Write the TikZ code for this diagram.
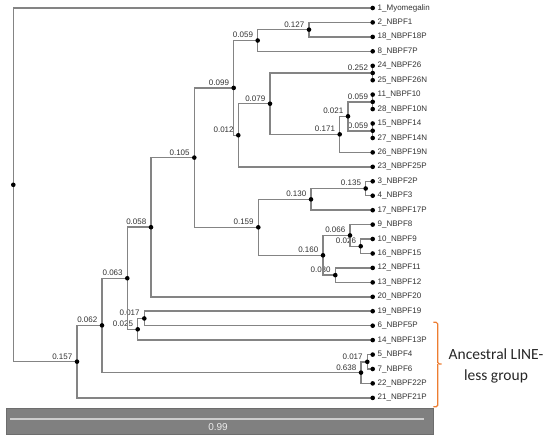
\documentclass[tikz,border=0pt]{standalone}
\usepackage{fontspec}
\setmainfont{Liberation Sans}
\newfontfamily\calfont{Carlito}
\definecolor{branchgray}{RGB}{132,132,132}
\definecolor{textgray}{RGB}{50,50,50}
\definecolor{bracketorange}{RGB}{237,125,49}
\definecolor{bargray}{RGB}{128,128,128}
\definecolor{barline}{RGB}{205,205,205}
\definecolor{bartext}{RGB}{235,235,235}
\newcommand\treenode[4]{%
  \coordinate (#1) at (#2,#3);
  \node[supp] (#1lab) at ([xshift=-4.5pt,yshift=5.3pt]#1) {#4};}
\newcommand\leafnode[3]{%
  \coordinate (#1) at (372.7,#2);
  \node[leaflab] (#1lab) at (377.5,#2) {#3};}
\begin{document}
\begin{tikzpicture}[x=1pt,y=-1pt,
  branch/.style={draw=branchgray, line width=1.5pt},
  dot/.style={circle, fill=black, inner sep=0pt, minimum size=4.6pt},
  leaflab/.style={anchor=west, inner sep=0pt, font=\fontsize{8}{9}\selectfont, text=textgray},
  supp/.style={anchor=east, inner sep=0pt, font=\fontsize{8}{9}\selectfont, text=textgray},
  brace/.style={draw=bracketorange, line width=1.2pt, rounded corners=1.5pt}]
\useasboundingbox (0,0) rectangle (550,440);
% leaves
\leafnode{l1}{8.0}{1\_Myomegalin}
\leafnode{l2}{22.4}{2\_NBPF1}
\leafnode{l18}{36.9}{18\_NBPF18P}
\leafnode{l8}{51.3}{8\_NBPF7P}
\leafnode{l24}{65.8}{24\_NBPF26}
\leafnode{l25}{80.2}{25\_NBPF26N}
\leafnode{l11}{94.6}{11\_NBPF10}
\leafnode{l28}{109.1}{28\_NBPF10N}
\leafnode{l15}{123.5}{15\_NBPF14}
\leafnode{l27}{138.0}{27\_NBPF14N}
\leafnode{l26}{152.4}{26\_NBPF19N}
\leafnode{l23}{166.8}{23\_NBPF25P}
\leafnode{l3}{181.3}{3\_NBPF2P}
\leafnode{l4}{195.7}{4\_NBPF3}
\leafnode{l17}{210.2}{17\_NBPF17P}
\leafnode{l9}{224.6}{9\_NBPF8}
\leafnode{l10}{239.0}{10\_NBPF9}
\leafnode{l16}{253.5}{16\_NBPF15}
\leafnode{l12}{267.9}{12\_NBPF11}
\leafnode{l13}{282.4}{13\_NBPF12}
\leafnode{l20}{296.8}{20\_NBPF20}
\leafnode{l19}{311.2}{19\_NBPF19}
\leafnode{l6}{325.7}{6\_NBPF5P}
\leafnode{l14}{340.1}{14\_NBPF13P}
\leafnode{l5}{354.6}{5\_NBPF4}
\leafnode{l7}{369.0}{7\_NBPF6}
\leafnode{l22}{383.4}{22\_NBPF22P}
\leafnode{l21}{397.9}{21\_NBPF21P}
% internal nodes
\coordinate (root) at (13.3,184.8);
\treenode{n127}{309}{29.65}{0.127}
\treenode{n059a}{257.7}{40.5}{0.059}
\treenode{n252}{372.7}{73}{0.252}
\treenode{n059b}{372.7}{101.85}{0.059}
\treenode{n059c}{372.7}{130.75}{0.059}
\treenode{n021}{348}{116.3}{0.021}
\treenode{n171}{339.7}{134.35}{0.171}
\treenode{n079}{270}{103.7}{0.079}
\treenode{n012}{238.3}{135.25}{0.012}
\treenode{n099}{233.7}{87.9}{0.099}
\treenode{n135}{365.7}{188.5}{0.135}
\treenode{n130}{311}{199.35}{0.130}
\treenode{n026}{360.7}{246.25}{0.026}
\treenode{n066}{350}{235.4}{0.066}
\treenode{n030}{335.3}{275.15}{0.030}
\treenode{n160}{323}{255.3}{0.160}
\treenode{n159}{258.3}{227.3}{0.159}
\treenode{n105}{194.3}{157.6}{0.105}
\treenode{n058}{151}{227.2}{0.058}
\treenode{n017a}{144.3}{318.45}{0.017}
\treenode{n025}{137.7}{329.3}{0.025}
\treenode{n063}{127.3}{278.25}{0.063}
\treenode{n017b}{367.3}{361.8}{0.017}
\treenode{n638}{361}{372.6}{0.638}
\treenode{n062}{102}{325.4}{0.062}
\treenode{n157}{77}{361.65}{0.157}
% branches
\foreach \p/\a/\b in {root/l1/n157, n157/n062/l21, n062/n063/n638, n063/n058/n025,
  n058/n105/l20, n105/n099/n159, n099/n059a/n012, n059a/n127/l8, n127/l2/l18,
  n012/n079/l23, n079/n252/n171, n252/l24/l25, n171/n021/l26, n021/n059b/n059c,
  n059b/l11/l28, n059c/l15/l27, n159/n130/n160, n130/n135/l17, n135/l3/l4,
  n160/n066/n030, n066/l9/n026, n026/l10/l16, n030/l12/l13, n025/n017a/l14,
  n017a/l19/l6, n638/n017b/l22, n017b/l5/l7}
  {\draw[branch] (\p) |- (\a); \draw[branch] (\p) |- (\b);}
% dots
\foreach \n in {root,n127,n059a,n252,n059b,n059c,n021,n171,n079,n012,n099,n135,n130,
  n026,n066,n030,n160,n159,n105,n058,n017a,n025,n063,n017b,n638,n062,n157,
  l1,l2,l18,l8,l24,l25,l11,l28,l15,l27,l26,l23,l3,l4,l17,l9,l10,l16,l12,l13,
  l20,l19,l6,l14,l5,l7,l22,l21}
  {\node[dot] (\n dot) at (\n) {};}
% bracket
\coordinate (bt) at (433.3,322.3);
\coordinate (bm) at (437.7,364);
\coordinate (bn) at (441.7,364);
\coordinate (bb) at (433.3,406.7);
\draw[brace] (bt) -| (bm) -- (bn);
\draw[brace] (bm) |- (bb);
\node[align=center, inner sep=0pt, font=\calfont\fontsize{15.5}{21}\selectfont, text=black!85] (grp) at (496,366.2) {Ancestral LINE-\\less group};
% scale bar
\node[draw=bargray!85!black, line width=0.5pt, fill=bargray, minimum width=426.6pt, minimum height=25.7pt, inner sep=0pt] (bar) at (220,421.15) {};
\coordinate (bl) at (10,419);
\coordinate (br) at (424,419);
\draw[draw=barline, line width=1.4pt] (bl) -- (br);
\node[text=bartext, font=\fontsize{10}{12}\selectfont, inner sep=0pt] (barlab) at (218,427) {0.99};
\end{tikzpicture}
\end{document}
